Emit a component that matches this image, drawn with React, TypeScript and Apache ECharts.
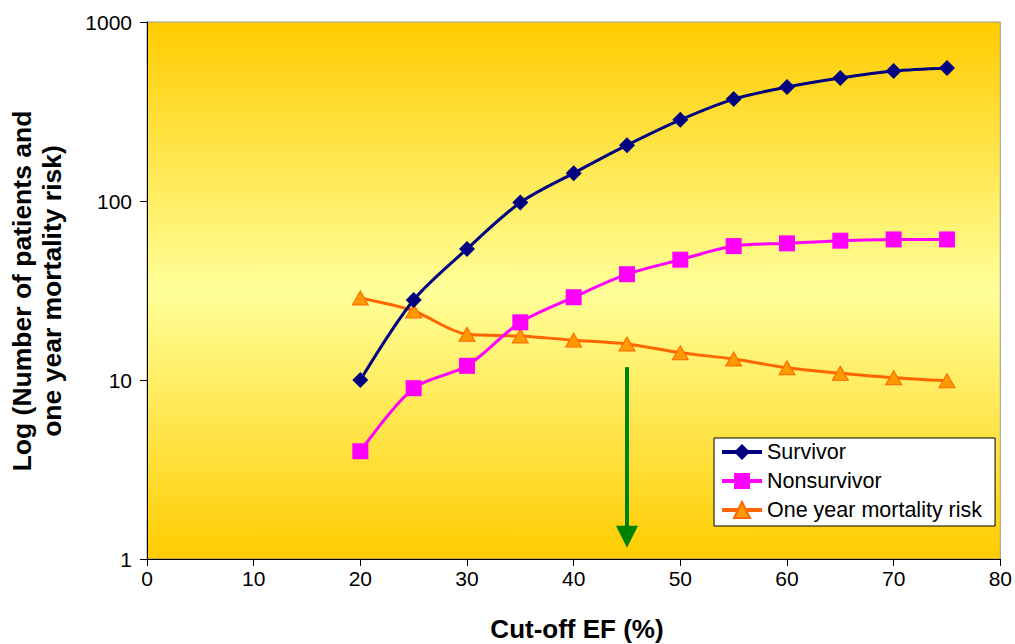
import React, { useEffect, useRef } from "react";
import * as echarts from "echarts";

// Cut-off EF (%) values
const cutoffs = [20, 25, 30, 35, 40, 45, 50, 55, 60, 65, 70, 75];
// Number of surviving patients at each cut-off
const survivor = [10, 28, 54, 98, 143, 205, 284, 371, 433, 486, 532, 553];
// Number of non-surviving patients at each cut-off
const nonsurvivor = [4, 9, 12, 21, 29, 39, 47, 56, 58, 60, 61, 61];
// One year mortality risk (%)
const mortalityRisk = [28.7, 24.3, 18, 17.6, 16.7, 15.9, 14.2, 13.1, 11.7, 10.9, 10.3, 9.9];
// Marked optimal cut-off arrow: [EF, value] start and end
const arrowStart = [45, 11.8];
const arrowEnd = [45, 1.33];

const xTicks = { min: 0, max: 80, interval: 10 };
const yRange = { min: 1, max: 1000 };

const FONT = "'Liberation Sans', Arial, sans-serif";

function pairs(ys: number[]) {
  return cutoffs.map((x, i) => [x, ys[i]]);
}

export default function App() {
  const ref = useRef<HTMLDivElement>(null);

  useEffect(() => {
    document.body.style.margin = "0";
    if (!ref.current) return;
    const chart = echarts.init(ref.current, undefined, { renderer: "svg" });
    chart.setOption({
      animation: false,
      backgroundColor: "#ffffff",
      textStyle: { fontFamily: FONT },
      grid: {
        left: 147,
        top: 22,
        right: 11,
        bottom: 85,
        show: true,
        borderColor: "#999999",
        borderWidth: 1,
        backgroundColor: {
          type: "linear",
          x: 0,
          y: 0,
          x2: 0,
          y2: 1,
          colorStops: [
            { offset: 0, color: "#FFCC00" },
            { offset: 0.5, color: "#FFFF99" },
            { offset: 1, color: "#FFCC00" },
          ],
        },
      },
      xAxis: {
        type: "value",
        min: xTicks.min,
        max: xTicks.max,
        interval: xTicks.interval,
        axisLine: { show: true, lineStyle: { color: "#000", width: 1 } },
        axisTick: { show: true, length: 7, inside: false, lineStyle: { color: "#000" } },
        axisLabel: { color: "#000", fontSize: 21, fontFamily: FONT, margin: 9 },
        splitLine: { show: false },
      },
      yAxis: {
        type: "log",
        logBase: 10,
        min: yRange.min,
        max: yRange.max,
        axisLine: { show: true, lineStyle: { color: "#000", width: 1 } },
        axisTick: { show: true, length: 7, inside: false, lineStyle: { color: "#000" } },
        axisLabel: {
          color: "#000",
          fontSize: 21,
          fontFamily: FONT,
          margin: 15,
          formatter: (v: number) => String(Math.round(v)),
        },
        splitLine: { show: false },
        minorTick: { show: false },
      },
      legend: {
        orient: "vertical",
        left: 714,
        top: 438,
        padding: [3, 13, 5, 6],
        itemGap: 7,
        itemWidth: 40,
        itemHeight: 20,
        backgroundColor: "#ffffff",
        borderColor: "#000000",
        borderWidth: 1,
        borderRadius: 0,
        lineStyle: { width: 4 },
        textStyle: { color: "#000", fontSize: 21.5, fontFamily: FONT },
        data: ["Survivor", "Nonsurvivor", "One year mortality risk"],
      },
      series: [
        {
          name: "Survivor",
          type: "line",
          data: pairs(survivor),
          smooth: 0.3,
          symbol: "diamond",
          symbolSize: 16,
          lineStyle: { color: "#000080", width: 3 },
          itemStyle: { color: "#000080" },
          z: 4,
        },
        {
          name: "Nonsurvivor",
          type: "line",
          data: pairs(nonsurvivor),
          smooth: 0.3,
          symbol: "rect",
          symbolSize: 16,
          lineStyle: { color: "#FF00FF", width: 3 },
          itemStyle: { color: "#FF00FF" },
          z: 3,
        },
        {
          name: "One year mortality risk",
          type: "line",
          data: pairs(mortalityRisk),
          smooth: 0.3,
          symbol: "triangle",
          symbolSize: [16, 14],
          lineStyle: { color: "#FF6600", width: 3 },
          itemStyle: { color: "#FF9900", borderColor: "#FF6600", borderWidth: 1 },
          z: 2,
          markLine: {
            silent: true,
            symbol: ["none", "triangle"],
            symbolSize: [22, 22],
            label: { show: false },
            lineStyle: { color: "#008000", width: 4, type: "solid" },
            itemStyle: { color: "#008000" },
            data: [[{ coord: arrowStart }, { coord: arrowEnd }]],
          },
        },
      ],
      graphic: [
        {
          type: "text",
          x: 37,
          y: 291,
          rotation: Math.PI / 2,
          style: {
            text: "Log (Number of patients and\none year mortality risk)",
            fontSize: 26.5,
            fontWeight: "bold",
            fontFamily: FONT,
            fill: "#000",
            align: "center",
            verticalAlign: "middle",
            lineHeight: 30,
          },
        },
        {
          type: "text",
          x: 577,
          y: 629,
          style: {
            text: "Cut-off EF (%)",
            fontSize: 26,
            fontWeight: "bold",
            fontFamily: FONT,
            fill: "#000",
            align: "center",
            verticalAlign: "middle",
          },
        },
      ],
    });
    return () => chart.dispose();
  }, []);

  return <div ref={ref} style={{ width: 1015, height: 644 }} />;
}
